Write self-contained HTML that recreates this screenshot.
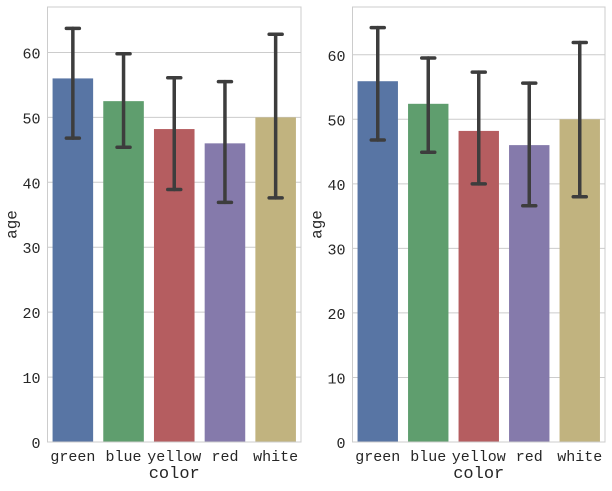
<!DOCTYPE html>
<html><head><meta charset="utf-8"><style>
body{margin:0;background:#fff;}
svg text{font-family:"WenQuanYi Zen Hei Mono","Liberation Mono",monospace;fill:#262626;}
</style></head><body>
<svg id="chart" width="612" height="486" xmlns="http://www.w3.org/2000/svg"></svg>
<script>
const categories=["green","blue","yellow","red","white"];
const colors=["#5875a4","#5f9e6e","#b55d60","#857aab","#c1b37f"];
const yTicks=[0,10,20,30,40,50,60];
const leftMeans=[56,52.5,48.2,46,50];
const leftLow=[46.8,45.4,38.9,36.9,37.6];
const leftHigh=[63.7,59.8,56.1,55.5,62.8];
const rightMeans=[55.9,52.4,48.2,46,50];
const rightLow=[46.8,44.9,40,36.6,38];
const rightHigh=[64.2,59.5,57.3,55.6,61.9];
const NS="http://www.w3.org/2000/svg";
const svg=document.getElementById("chart");
function mk(t,a,parent){const e=document.createElementNS(NS,t);for(const k in a)e.setAttribute(k,a[k]);(parent||svg).appendChild(e);return e;}
function panel(x0,x1,y0,y1,ymax,means,low,high,pname){
  const g=mk("g",{});
  
  
  const y=v=>y1-(v/ymax)*(y1-y0);
  const band=(x1-x0)/categories.length;
  yTicks.forEach(t=>{
    const gl=mk("line",{x1:x0,x2:x1,y1:y(t),y2:y(t),stroke:"#cccccc","stroke-width":1},g);
    
    
    const tx=mk("text",{x:x0-7,y:y(t)+6,"text-anchor":"end","font-size":15},g);
    tx.textContent=t;
    
    
  });
  categories.forEach((c,i)=>{
    const cx=x0+band*(i+0.5), w=band*0.8;
    const r=mk("rect",{x:cx-w/2,y:y(means[i]),width:w,height:y1-y(means[i]),fill:colors[i]},g);
    
    
    const eg=mk("g",{stroke:"#3d3d3d","stroke-width":3.5,"stroke-linecap":"round"},g);
    
    
    mk("line",{x1:cx,x2:cx,y1:y(low[i]),y2:y(high[i])},eg);
    mk("line",{x1:cx-6.5,x2:cx+6.5,y1:y(low[i]),y2:y(low[i])},eg);
    mk("line",{x1:cx-6.5,x2:cx+6.5,y1:y(high[i]),y2:y(high[i])},eg);
    const tx=mk("text",{x:cx,y:y1+19,"text-anchor":"middle","font-size":15},g);
    tx.textContent=c;
    
    
  });
  const fr=mk("rect",{x:x0,y:y0,width:x1-x0,height:y1-y0,fill:"none",stroke:"#cccccc","stroke-width":1},g);
  
  
  const xl=mk("text",{x:(x0+x1)/2,y:478,"text-anchor":"middle","font-size":17},g);
  xl.textContent="color";
  
  
  const ly=(y0+y1)/2;
  const yl=mk("text",{x:x0-31,y:ly,"text-anchor":"middle","font-size":16,transform:`rotate(-90 ${x0-31} ${ly})`},g);
  yl.textContent="age";
  
  
}
panel(47.5,301,7,442,67,leftMeans,leftLow,leftHigh,'left-panel');
panel(352.5,605,7,442,67.4,rightMeans,rightLow,rightHigh,'right-panel');
</script>
</body></html>
